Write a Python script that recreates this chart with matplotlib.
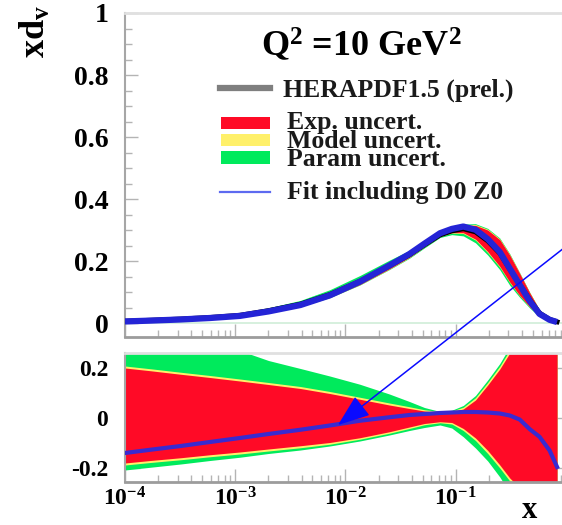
import matplotlib
matplotlib.use("Agg")
import matplotlib.pyplot as plt
from matplotlib.lines import Line2D
from matplotlib.patches import Rectangle
from matplotlib.ticker import MultipleLocator, LogLocator, FuncFormatter, NullFormatter, FixedLocator
import numpy as np

# ---------------------------------------------------------------- data
# x grid (Bjorken x)
x = [1.0e-4, 1.7e-4, 3.2e-4, 5.9e-4, 1.1e-3, 2.0e-3, 3.9e-3, 7.2e-3,
     0.0135, 0.025, 0.038, 0.052, 0.072, 0.092, 0.117, 0.151, 0.195,
     0.251, 0.309, 0.38, 0.47, 0.575, 0.71, 0.83]

# central HERAPDF1.5 xd_v at Q^2 = 10 GeV^2
xdv_central = [0.006, 0.009, 0.013, 0.018, 0.025, 0.040, 0.061, 0.092,
               0.135, 0.185, 0.220, 0.252, 0.284, 0.297, 0.304, 0.294,
               0.265, 0.225, 0.174, 0.124, 0.074, 0.032, 0.012, 0.004]

# relative uncertainty band edges (cumulative: exp, exp+model, exp+model+param)
exp_up = [0.200, 0.189, 0.175, 0.162, 0.148, 0.134, 0.118, 0.098, 0.075,
          0.052, 0.038, 0.028, 0.022, 0.024, 0.036, 0.072, 0.132, 0.196,
          0.260, 0.29, 0.31, 0.33, 0.35, 0.37]
exp_lo = [-0.180, -0.170, -0.159, -0.147, -0.136, -0.124, -0.111, -0.098,
          -0.079, -0.055, -0.036, -0.022, -0.015, -0.018, -0.042, -0.080,
          -0.130, -0.188, -0.240, -0.28, -0.30, -0.32, -0.34, -0.36]
model_up = [0.208, 0.197, 0.183, 0.170, 0.156, 0.142, 0.126, 0.106, 0.083,
            0.060, 0.045, 0.033, 0.026, 0.028, 0.043, 0.081, 0.142, 0.207,
            0.272, 0.30, 0.32, 0.34, 0.36, 0.38]
model_lo = [-0.188, -0.178, -0.167, -0.155, -0.144, -0.132, -0.119, -0.105,
            -0.085, -0.061, -0.042, -0.027, -0.019, -0.024, -0.050, -0.090,
            -0.142, -0.200, -0.252, -0.29, -0.31, -0.33, -0.35, -0.37]
param_up = [0.320, 0.310, 0.300, 0.290, 0.270, 0.230, 0.198, 0.168, 0.135,
            0.096, 0.066, 0.042, 0.026, 0.031, 0.050, 0.090, 0.152, 0.218,
            0.285, 0.31, 0.33, 0.35, 0.37, 0.39]
param_lo = [-0.208, -0.197, -0.184, -0.170, -0.157, -0.142, -0.128, -0.112,
            -0.092, -0.068, -0.050, -0.038, -0.028, -0.040, -0.075, -0.120,
            -0.172, -0.236, -0.300, -0.33, -0.35, -0.37, -0.39, -0.41]

# relative deviation of the fit including D0 Z0 data
d0z0_rel = [-0.140, -0.127, -0.112, -0.096, -0.080, -0.064, -0.047, -0.030,
            -0.011, 0.003, 0.012, 0.016, 0.020, 0.022, 0.024, 0.024, 0.022,
            0.018, 0.010, -0.006, -0.045, -0.075, -0.130, -0.196]

legend_labels = ["HERAPDF1.5 (prel.)", "Exp. uncert.", "Model uncert.",
                 "Param uncert.", "Fit including D0 Z0"]
ytick_top = [0, 0.2, 0.4, 0.6, 0.8, 1.0]
ytick_bottom = [-0.2, 0, 0.2]

# ---------------------------------------------------------------- style
plt.rcParams["font.family"] = ["Liberation Serif", "DejaVu Serif"]
plt.rcParams["font.weight"] = "bold"
plt.rcParams["mathtext.fontset"] = "custom"
plt.rcParams["mathtext.rm"] = "Liberation Serif:bold"
plt.rcParams["mathtext.it"] = "Liberation Serif:bold"
plt.rcParams["mathtext.bf"] = "Liberation Serif:bold"
plt.rcParams["mathtext.default"] = "bf"

RED = "#ff0a26"
YELLOW = "#fff06a"
GREEN = "#00ea5c"
BLUE = "#2424d6"

W, H = 562.0, 525.0


def fx(px):
    return px / W


def fy(py):
    return 1.0 - py / H


xa = np.array(x)
cen = np.array(xdv_central)

fig = plt.figure(figsize=(W / 100, H / 100), dpi=100)
fig.patch.set_facecolor("white")

ax1 = fig.add_axes([fx(125), fy(337), (W - 125) / W, 324 / H])
ax2 = fig.add_axes([fx(125), fy(482), (W - 125) / W, 129 / H])

# ---------------------------------------------------------------- top panel
ax1.axhline(0, color="#cfeed8", lw=1.2, zorder=1)
for lo, up, col in ((param_lo, param_up, GREEN),
                    (model_lo, model_up, YELLOW),
                    (exp_lo, exp_up, RED)):
    ax1.fill_between(xa, cen * (1 + np.array(lo)), cen * (1 + np.array(up)),
                     color=col, lw=0, zorder=2)
ax1.plot(xa, cen, color="black", lw=3.5, zorder=3, solid_joinstyle="round")
ax1.plot(xa, cen * (1 + np.array(d0z0_rel)), color=BLUE, lw=4.5, zorder=4,
         solid_joinstyle="round", solid_capstyle="butt")

ax1.set_xscale("log")
ax1.set_xlim(1e-4, 0.92)
ax1.set_ylim(-0.045, 1.0)
ax1.yaxis.set_major_locator(FixedLocator(ytick_top))
ax1.yaxis.set_minor_locator(MultipleLocator(0.05))
ax1.yaxis.set_major_formatter(FuncFormatter(lambda v, p: f"{v:g}"))
ax1.xaxis.set_major_locator(LogLocator(base=10, numticks=10))
ax1.xaxis.set_minor_locator(LogLocator(base=10, subs=np.arange(2, 10), numticks=20))
ax1.xaxis.set_major_formatter(NullFormatter())
ax1.xaxis.set_minor_formatter(NullFormatter())

# ---------------------------------------------------------------- bottom panel
for lo, up, col in ((param_lo, param_up, GREEN),
                    (model_lo, model_up, YELLOW),
                    (exp_lo, exp_up, RED)):
    ax2.fill_between(xa, lo, up, color=col, lw=0, zorder=2)
ax2.plot(xa, d0z0_rel, color="#3a2ad0", lw=3.0, zorder=4,
         solid_joinstyle="round")

ax2.set_xscale("log")
ax2.set_xlim(1e-4, 0.92)
ax2.set_ylim(-0.256, 0.26)
ax2.yaxis.set_major_locator(FixedLocator(ytick_bottom))
ax2.yaxis.set_minor_locator(MultipleLocator(0.1))
ax2.yaxis.set_major_formatter(FuncFormatter(lambda v, p: f"{v:g}"))
ax2.xaxis.set_major_locator(LogLocator(base=10, numticks=10))
ax2.xaxis.set_minor_locator(LogLocator(base=10, subs=np.arange(2, 10), numticks=20))
ax2.xaxis.set_major_formatter(
    FuncFormatter(lambda v, p: r"$10^{%d}$" % int(round(np.log10(v)))))
ax2.xaxis.set_minor_formatter(NullFormatter())

for ax in (ax1, ax2):
    ax.set_facecolor("white")
    ax.spines["left"].set_color("#a6a6a6")
    ax.spines["left"].set_linewidth(1.5)
    ax.spines["bottom"].set_color("#9c9c9c")
    ax.spines["bottom"].set_linewidth(2.0)
    ax.spines["top"].set_color("#e0e0e0")
    ax.spines["top"].set_linewidth(2.0)
    ax.spines["right"].set_color("#e0e0e0")
    ax.tick_params(which="both", direction="in", color="#b4b4b4", width=1.0)
    ax.tick_params(which="major", length=9.5)
    ax.tick_params(which="minor", length=5)

ax1.tick_params(axis="y", which="major", labelsize=20, pad=12)
ax2.tick_params(axis="y", which="major", labelsize=17, pad=12, right=True, length=11)
ax2.tick_params(axis="x", which="major", labelsize=17, pad=4)

# ---------------------------------------------------------------- texts
fig.text(fx(36), fy(5), r"xd$_{v}$", rotation=90, ha="center", va="top",
         fontsize=26)
fig.text(fx(530), fy(524.5), "x", ha="center", va="bottom", fontsize=22)
fig.text(fx(361), fy(45), r"Q$^{2}$ =10 GeV$^{2}$", ha="center", va="center",
         fontsize=26)

# legend
fig.add_artist(Line2D([fx(220), fx(270)], [fy(88), fy(88)],
                      transform=fig.transFigure, color="#7f7f7f", lw=4.5))
for (top, bot), col in zip(((117, 129), (134, 146), (151, 164)),
                           (RED, YELLOW, GREEN)):
    fig.add_artist(Rectangle((fx(221), fy(bot)), fx(270) - fx(221),
                             fy(top) - fy(bot), transform=fig.transFigure,
                             color=col, lw=0))
fig.add_artist(Line2D([fx(220), fx(270)], [fy(192), fy(192)],
                      transform=fig.transFigure, color="#5d6af0", lw=1.6))

legend_pos = [(283, 97), (287, 129), (287, 148), (287, 166), (287, 199)]
for (px, py), lab in zip(legend_pos, legend_labels):
    fig.text(fx(px), fy(py), lab, ha="left", va="baseline", fontsize=18.5,
             color="#1a1a1a")

# arrow pointing at the fit curve
ax2.annotate("", xy=(fx(338), fy(425)), xycoords="figure fraction",
             xytext=(fx(578), fy(237)), textcoords="figure fraction",
             arrowprops=dict(arrowstyle="-|>,head_length=2.0,head_width=0.75",
                             color="#0a0aff", lw=1.1, shrinkA=0, shrinkB=0,
                             mutation_scale=10),
             annotation_clip=False, zorder=10)

fig.savefig("out.png", dpi=100)
